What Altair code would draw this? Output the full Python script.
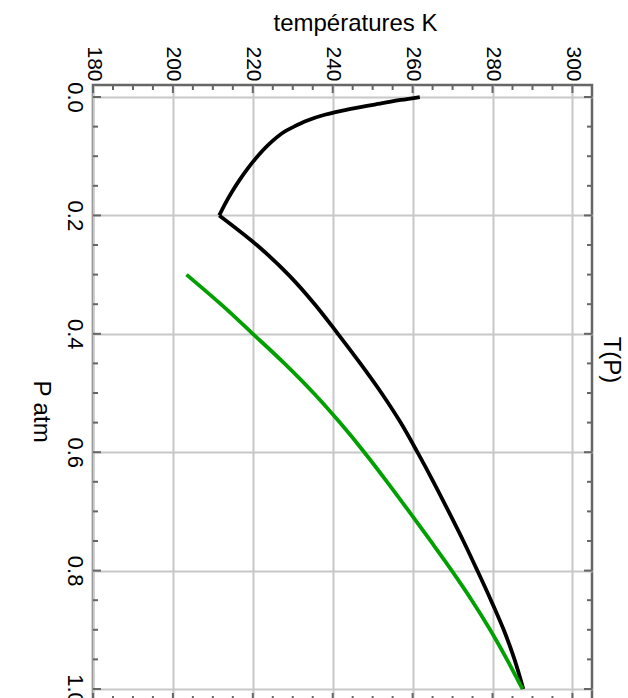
import altair as alt
import pandas as pd

# Black curve T(P): upper branch (P 0 -> 0.2) and lower branch (0.2 -> 1.0); P in atm, T in K
black_upper_p = [0.0, 0.005, 0.01, 0.02, 0.03, 0.04, 0.05, 0.06, 0.08, 0.10, 0.12, 0.14, 0.16, 0.18, 0.20]
black_upper_t = [261.8, 257.0, 252.8, 244.5, 238.0, 233.5, 230.3, 227.6, 224.0, 221.2, 218.8, 216.7, 214.8, 213.1, 211.6]
black_lower_p = [0.20, 0.25, 0.30, 0.35, 0.40, 0.45, 0.50, 0.55, 0.60, 0.65, 0.70, 0.75, 0.80, 0.85, 0.90, 0.95, 1.00]
black_lower_t = [211.6, 221.0, 228.9, 235.5, 241.3, 246.9, 252.2, 257.0, 261.2, 265.2, 269.0, 272.7, 276.2, 279.6, 282.8, 285.5, 287.7]

# Green curve
green_p = [0.30, 0.35, 0.40, 0.45, 0.50, 0.55, 0.60, 0.65, 0.70, 0.75, 0.80, 0.85, 0.90, 0.95, 1.00]
green_t = [203.4, 212.0, 220.0, 227.9, 235.2, 241.8, 247.9, 253.6, 259.1, 264.5, 269.8, 274.8, 279.4, 283.6, 287.5]

# Axis ticks
x_major = [180, 200, 220, 240, 260, 280, 300]
x_minor = [185, 190, 195, 205, 210, 215, 225, 230, 235, 245, 250, 255, 265, 270, 275, 285, 290, 295]
y_major = [0.0, 0.2, 0.4, 0.6, 0.8, 1.0]
y_minor = [0.05, 0.10, 0.15, 0.25, 0.30, 0.35, 0.45, 0.50, 0.55, 0.65, 0.70, 0.75, 0.85, 0.90, 0.95]

rows = []
for seg, curve, ps, ts in [
    ("upper", "black", black_upper_p, black_upper_t),
    ("lower", "black", black_lower_p, black_lower_t),
    ("green", "green", green_p, green_t),
]:
    for i, (p, t) in enumerate(zip(ps, ts)):
        rows.append({"segment": seg, "curve": curve, "k": i, "P": p, "T": t})
df = pd.DataFrame(rows)

W, H = 499, 616
FRAME = "#666666"
SANS = "Liberation Sans, Arial, sans-serif"

xscale = alt.Scale(domain=[180, 304.9], nice=False, zero=False)
yscale = alt.Scale(domain=[-0.0203, 1.0203], nice=False, zero=False, reverse=True)

x_axis = alt.Axis(
    orient="top", values=x_major, format="d",
    labelAngle=90, labelAlign="right", labelBaseline="middle", labelPadding=4,
    labelFont=SANS, labelFontSize=21, labelColor="black", labelFlush=False, labelOverlap=False,
    ticks=False, domain=False,
    grid=True, gridColor="#c8c8c8", gridWidth=2,
    title="températures K", titleFont=SANS, titleFontSize=24, titleFontWeight="normal",
    titleColor="black", titleAngle=0, titleX=262, titleY=-55, titleAlign="center",
    titleBaseline="alphabetic",
)
y_axis = alt.Axis(
    orient="left", values=y_major, format=".1f",
    labelAngle=90, labelAlign="center", labelBaseline="top", labelPadding=9,
    labelFont=SANS, labelFontSize=22, labelColor="black", labelFlush=False, labelOverlap=False,
    ticks=False, domain=False,
    grid=True, gridColor="#c8c8c8", gridWidth=2,
    title="P atm", titleFont=SANS, titleFontSize=24, titleFontWeight="normal",
    titleColor="black", titleAngle=90, titleX=-53, titleY=326, titleAlign="center",
    titleBaseline="middle",
)

lines = alt.Chart(df).mark_line(strokeWidth=3.8, strokeJoin="miter", interpolate="catmull-rom").encode(
    x=alt.X("T:Q", scale=xscale, axis=x_axis),
    y=alt.Y("P:Q", scale=yscale, axis=y_axis),
    color=alt.Color("curve:N", scale=alt.Scale(domain=["black", "green"], range=["#000000", "#00a000"]), legend=None),
    detail="segment:N",
    order=alt.Order("k:Q"),
)

xmaj = pd.DataFrame({"T": x_major})
xmin = pd.DataFrame({"T": x_minor})
ymaj = pd.DataFrame({"P": y_major})
ymin = pd.DataFrame({"P": y_minor})


def xticks(data, length):
    base = alt.Chart(data).mark_rule(color=FRAME, strokeWidth=2)
    enc_x = alt.X("T:Q", scale=xscale, axis=x_axis)
    top = base.encode(x=enc_x, y=alt.value(0), y2=alt.value(length))
    bottom = base.encode(x=enc_x, y=alt.value(H), y2=alt.value(H - length))
    return [top, bottom]


def yticks(data, length):
    base = alt.Chart(data).mark_rule(color=FRAME, strokeWidth=2)
    enc_y = alt.Y("P:Q", scale=yscale, axis=y_axis)
    left = base.encode(y=enc_y, x=alt.value(0), x2=alt.value(length))
    right = base.encode(y=enc_y, x=alt.value(W), x2=alt.value(W - length))
    return [left, right]


layers = [lines] + xticks(xmaj, 8) + xticks(xmin, 5) + yticks(ymaj, 8) + yticks(ymin, 5)

chart = alt.layer(*layers).properties(
    width=W, height=H,
    autosize=alt.AutoSizeParams(type="none"),
    padding={"left": 93, "top": 85, "right": 36, "bottom": 0},
    title=alt.TitleParams(
        text="T(P)", orient="right", anchor="middle", angle=90, offset=6, dx=-33,
        font=SANS, fontSize=24, fontWeight="normal", color="black",
    ),
).configure_view(stroke=FRAME, strokeWidth=2.5)

chart.save("out.html", embed_options={"renderer": "svg", "actions": False})
